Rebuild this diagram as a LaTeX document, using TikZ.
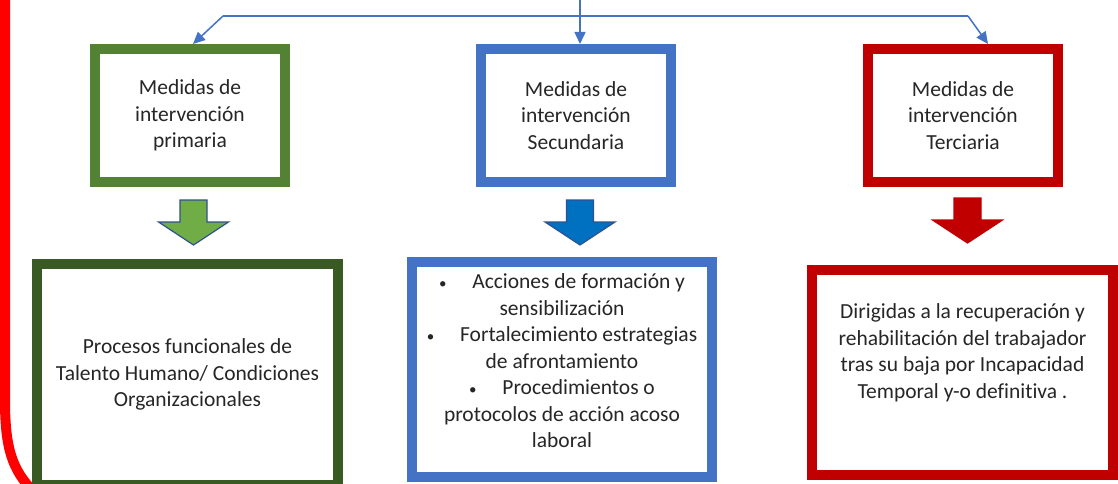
\documentclass[tikz,border=0pt]{standalone}
\usepackage{fontspec}
\setmainfont{Carlito}[Ligatures=NoCommon]
\usetikzlibrary{arrows.meta}
\definecolor{verde}{HTML}{548235}
\definecolor{verdeosc}{HTML}{3A5A23}
\definecolor{verdeclaro}{HTML}{70AD47}
\definecolor{azul}{HTML}{4472C4}
\definecolor{azulfuerte}{HTML}{0070C0}
\definecolor{azulosc}{HTML}{2F528F}
\definecolor{rojo}{HTML}{C00000}
\definecolor{rojovivo}{HTML}{FF0000}
\newcommand{\vineta}{{\fontsize{15}{15}\selectfont\textbullet}\hspace{1.2em}}
\tikzset{pics/bajada/.style 2 args={code={
  \filldraw[fill=#1,draw=#2,line width=1.2pt,line join=miter]
    (-13.5,0) -- (13.5,0) -- (13.5,22) -- (35,22) -- (0,45) -- (-35,22) -- (-13.5,22) -- cycle;}}}

\begin{document}
\begin{tikzpicture}[x=1pt,y=-1pt,>={Triangle[length=12pt,width=11pt]},
  caja/.style={draw=#1,line width=10pt,fill=white,align=center,inner sep=0pt,
    text=black!85,font=\fontsize{21.5}{26.5}\selectfont},
  texto/.style={align=center,text=black!85,font=\fontsize{21.5}{26.5}\selectfont},
  enlace/.style={draw=azul,line width=1.5pt}]
  \useasboundingbox (0,0) rectangle (1118,484);

  % linea roja a la izquierda
  \draw[rojovivo,line width=10pt] (5,-5) -- (5,400) .. controls (5,448) and (12,470) .. (34,492);

  % medidas
  \node[caja=verde,minimum width=190pt,minimum height=133pt] (prim) at (190,115.5) {Medidas de\\intervención\\primaria};
  \node[caja=azul,minimum width=190pt,minimum height=133pt] (sec) at (576,115.5) {Medidas de\\intervención\\Secundaria};
  \node[caja=rojo,minimum width=190pt,minimum height=133pt] (ter) at (963,115.5) {Medidas de\\intervención\\Terciaria};

  \coordinate (arriba) at (580,-2);
  \coordinate (izq) at (223,16);
  \coordinate (der) at (968,16);

  \draw[enlace,->] (arriba) -- (arriba |- sec.north);
  \draw[enlace] (izq) -- (der);
  \draw[enlace,->] (izq) -- ([xshift=3pt]prim.north);
  \draw[enlace,->] (der) -- ([xshift=25pt]ter.north);

  % flechas gruesas
  \pic at (193.5,200) {bajada={verdeclaro}{azulosc}};
  \pic at (580,200) {bajada={azulfuerte}{azulosc}};
  \pic at (967.5,198) {bajada={rojo}{rojo}};

  % cajas de abajo
  \node[caja=verdeosc,minimum width=301pt,minimum height=221pt] (proc) at (187.5,374.5)
    {Procesos funcionales de\\Talento Humano/ Condiciones\\Organizacionales};
  \node[caja=azul,minimum width=300pt,minimum height=215pt] (acc) at (562,369.5) {};
  \node[texto] (acctxt) at ([yshift=8.5pt]acc.center)
    {\vineta Acciones de formación y\\sensibilización\\
     \vineta Fortalecimiento estrategias\\de afrontamiento\\
     \vineta Procedimientos o\\protocolos de acción acoso\\laboral};
  \node[caja=rojo,minimum width=301pt,minimum height=205pt] (rehab) at (962.5,372.5) {};
  \node[texto] (rehabtxt) at ([yshift=19.5pt]rehab.center)
    {Dirigidas a la recuperación y\\rehabilitación del trabajador\\tras su baja por Incapacidad\\Temporal y-o definitiva .};
\end{tikzpicture}
\end{document}
